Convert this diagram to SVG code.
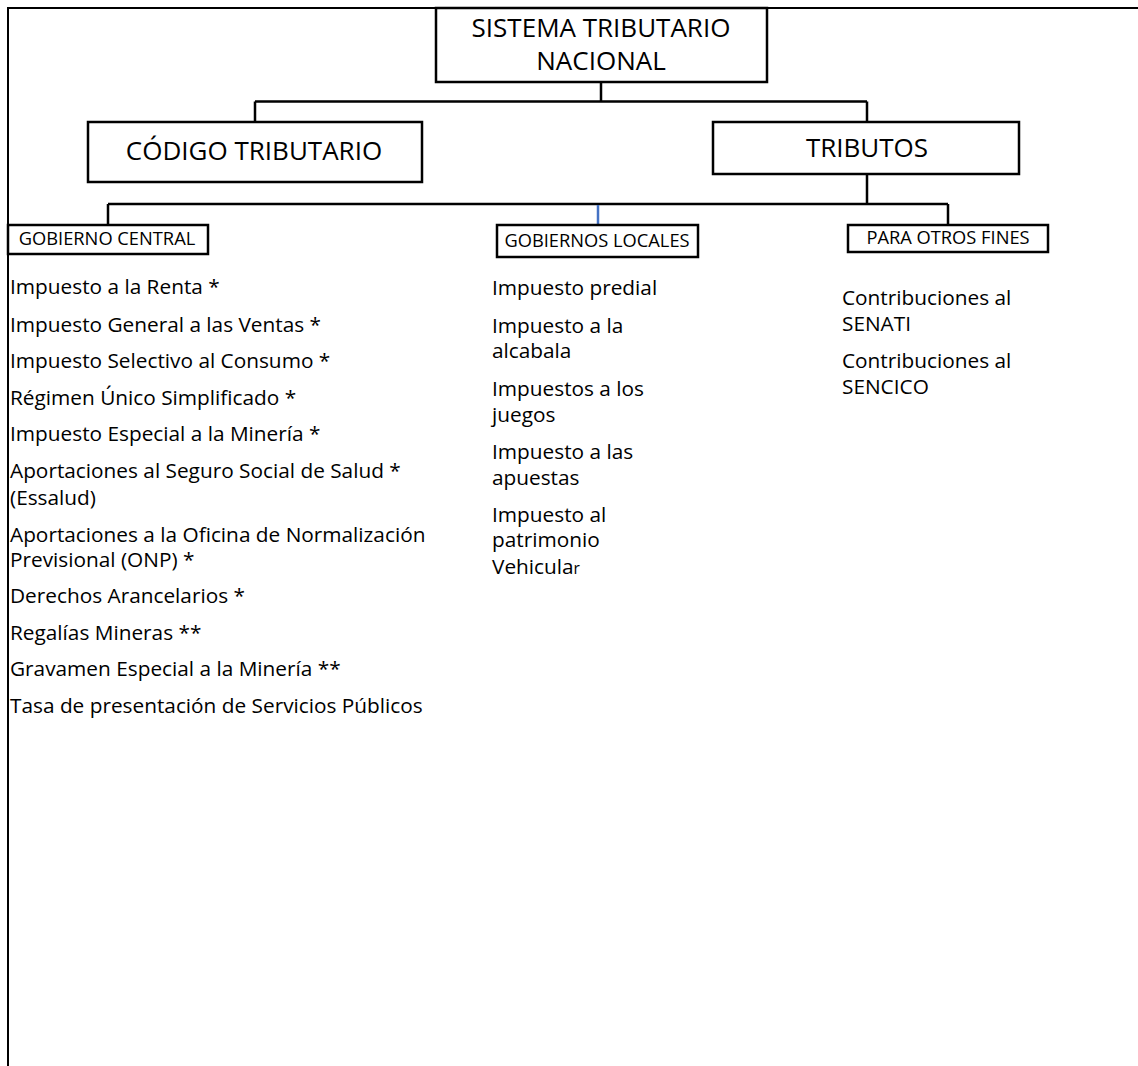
<svg xmlns="http://www.w3.org/2000/svg" width="1138" height="1066" viewBox="0 0 1138 1066">
<style>
.frame{fill:none;stroke:#000;stroke-width:2}
.box{fill:#fff;stroke:#000;stroke-width:2.5}
.con{fill:none;stroke:#000;stroke-width:2.5}
.blue{fill:none;stroke:#4472C4;stroke-width:2.5}
text{font-family:"Open Sans","Noto Sans",sans-serif;fill:#000}
.t1{font-size:26px}
.t2{font-size:18.3px}
.li{font-size:20.8px}
</style>
<rect width="1138" height="1066" fill="#fff"/>
<g id="frame">
<path class="frame" d="M8 1066 V8 H1138"/>
</g>
<g id="connectors">
<path class="con" d="M601 82 V101.5 M255 101.5 H867 M255 101.5 V122 M867 101.5 V122"/>
<path class="con" d="M867 174 V204 M108 204 H948 M108 204 V225 M948 204 V225"/>
<path class="blue" d="M598 205 V225"/>
</g>
<g id="sistema">
<rect class="box" x="436" y="8" width="331" height="74"/>
<text class="t1" x="601" y="37" text-anchor="middle">SISTEMA TRIBUTARIO<tspan x="601" dy="33">NACIONAL</tspan></text>
</g>
<g id="codigo">
<rect class="box" x="88" y="122" width="334" height="60"/>
<text class="t1" x="254" y="160" text-anchor="middle" font-size="27.4">CÓDIGO TRIBUTARIO</text>
</g>
<g id="tributos">
<rect class="box" x="713" y="122" width="306" height="52"/>
<text class="t1" x="867" y="157" text-anchor="middle" font-size="25.3">TRIBUTOS</text>
</g>
<g id="central">
<rect class="box" x="8" y="225" width="200" height="29"/>
<text class="t2" x="107" y="245" text-anchor="middle">GOBIERNO CENTRAL</text>
</g>
<g id="locales">
<rect class="box" x="497" y="225" width="201" height="32"/>
<text class="t2" x="597" y="247" text-anchor="middle">GOBIERNOS LOCALES</text>
</g>
<g id="otros">
<rect class="box" x="848" y="225" width="200" height="27"/>
<text class="t2" x="948" y="244" text-anchor="middle" font-size="18.6">PARA OTROS FINES</text>
</g>
<g id="central-list">
<text class="li" x="10" y="294">Impuesto a la Renta *</text>
<text class="li" x="10" y="332">Impuesto General a las Ventas *</text>
<text class="li" x="10" y="368">Impuesto Selectivo al Consumo *</text>
<text class="li" x="10" y="405">Régimen Único Simplificado *</text>
<text class="li" x="10" y="441">Impuesto Especial a la Minería *</text>
<text class="li" x="10" y="478">Aportaciones al Seguro Social de Salud *<tspan x="10" dy="27">(Essalud)</tspan></text>
<text class="li" x="10" y="542">Aportaciones a la Oficina de Normalización<tspan x="10" dy="25">Previsional (ONP) *</tspan></text>
<text class="li" x="10" y="603">Derechos Arancelarios *</text>
<text class="li" x="10" y="640">Regalías Mineras **</text>
<text class="li" x="10" y="676">Gravamen Especial a la Minería **</text>
<text class="li" x="10" y="713">Tasa de presentación de Servicios Públicos</text>
</g>
<g id="locales-list">
<text class="li" x="492" y="295">Impuesto predial</text>
<text class="li" x="492" y="333">Impuesto a la<tspan x="492" dy="25">alcabala</tspan></text>
<text class="li" x="492" y="396">Impuestos a los<tspan x="492" dy="26">juegos</tspan></text>
<text class="li" x="492" y="459">Impuesto a las<tspan x="492" dy="26">apuestas</tspan></text>
<text class="li" x="492" y="522">Impuesto al<tspan x="492" dy="25">patrimonio</tspan><tspan x="492" dy="27">Vehicula</tspan><tspan font-size="15.5">r</tspan></text>
</g>
<g id="otros-list">
<text class="li" x="842" y="305">Contribuciones al<tspan x="842" dy="26">SENATI</tspan></text>
<text class="li" x="842" y="368">Contribuciones al<tspan x="842" dy="26">SENCICO</tspan></text>
</g>
</svg>
